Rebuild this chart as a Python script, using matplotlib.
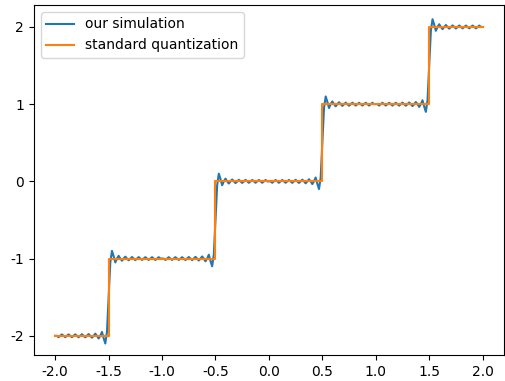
import numpy as np
import matplotlib.pyplot as plt

plt.rcParams['axes.unicode_minus'] = False

# step positions and the levels on either side
steps = [-1.5, -0.5, 0.5, 1.5]
levels = [-2, -1, 0, 1, 2]

# ringing of the simulated curve right of a step,
# relative to the upper level, sampled every 1/64 from the step to mid-plateau
ring = [-0.5, -0.05, 0.1, 0.03, -0.05, 0.0, 0.035, 0.0, -0.028, 0.0,
        0.025, 0.0, -0.022, 0.0, 0.02, 0.0, -0.02, 0.0, 0.019, 0.0,
        -0.018, 0.0, 0.018, 0.0, -0.018, 0.0, 0.018, 0.0, -0.018, 0.0,
        0.018, 0.0, 0.0]

ring = np.array(ring)
d = np.arange(len(ring)) / 64

sim_x = []
sim_y = []
for i, s in enumerate(steps):
    lo, hi = levels[i], levels[i + 1]
    # left half: mirrored ringing below the step
    sim_x.extend(s - d[::-1][:-1])
    sim_y.extend(lo - ring[::-1][:-1])
    sim_x.extend(s + d)
    sim_y.extend(hi + ring)

q_x = [-2.0]
q_y = [levels[0]]
for i, s in enumerate(steps):
    q_x += [s, s]
    q_y += [levels[i], levels[i + 1]]
q_x.append(2.0)
q_y.append(levels[-1])

fig = plt.figure(figsize=(5.05, 3.81), dpi=100)
ax = fig.add_axes([0.067, 0.068, 0.931, 0.919])
ax.plot(sim_x, sim_y, label='our simulation')
ax.plot(q_x, q_y, label='standard quantization')
ax.set_xticks([-2.0, -1.5, -1.0, -0.5, 0.0, 0.5, 1.0, 1.5, 2.0])
ax.set_yticks([-2, -1, 0, 1, 2])
ax.set_ylim(-2.25, 2.285)
ax.legend(loc='upper left')
fig.savefig('out.png', dpi=100)
